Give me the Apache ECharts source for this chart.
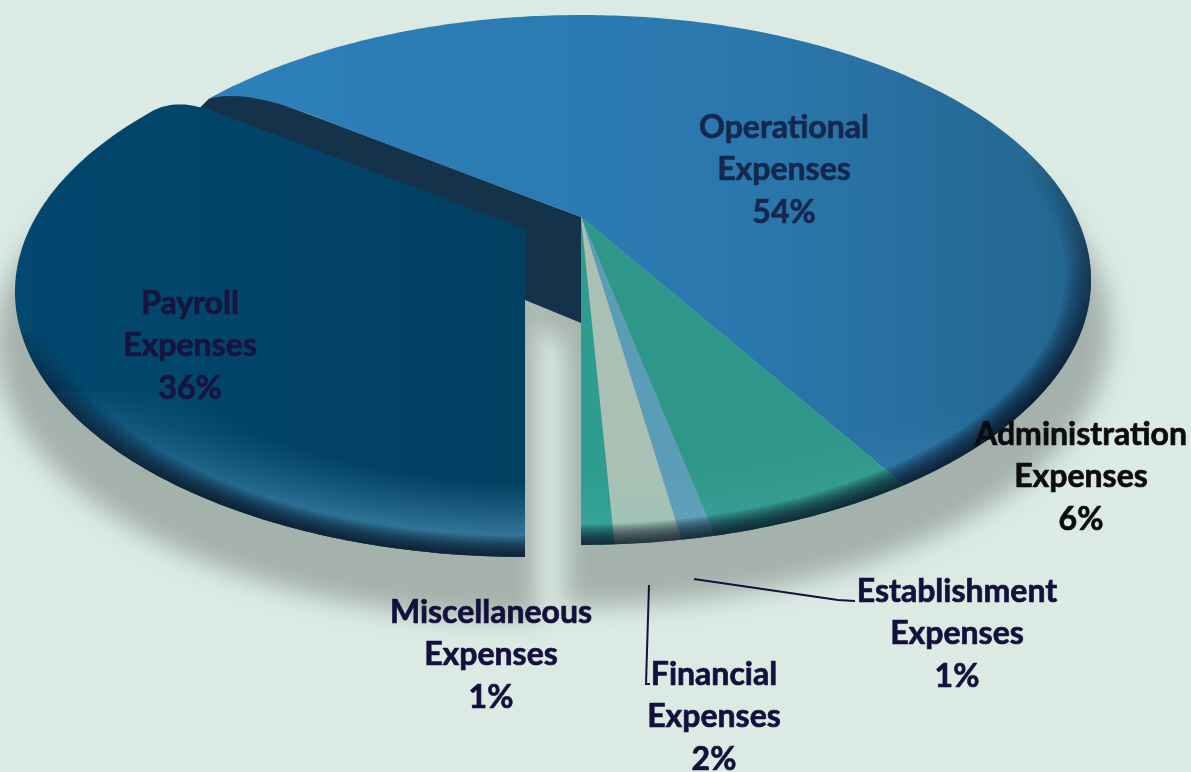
<!DOCTYPE html>
<html><head><meta charset="utf-8">
<style>html,body{margin:0;padding:0;background:#DBEAE3}#c{width:1191px;height:772px}</style>
<script src="https://cdn.jsdelivr.net/npm/echarts@6/dist/echarts.min.js"></script>
</head><body><div id="c"></div>
<script>
// Data
const categories = ['Operational Expenses','Administration Expenses','Establishment Expenses','Financial Expenses','Miscellaneous Expenses','Payroll Expenses'];
const values = [54, 6, 1, 2, 1, 36];
const sliceColors = ['#2c7db6','#2f978a','#5b9cb6','#abc0b4','#2f9c90','#03456b'];
const labelCentres = [[784,170],[1081,477],[957,634],[714,717],[491,655],[190,346]];
const labelColors = ['#14284f','#0b0b10','#14103c','#14103c','#14103c','#17143f'];

// Projection of the tilted disc
const CX=581, CY=217, A=495.4, B=250, K=0.2377;
const EXPLODE=[-56,12];
const total = values.reduce((a,b)=>a+b,0);
const START=-50.4;
const warp = d => { const r=d*Math.PI/180; return d+5.11*Math.sin(r)-1.36*Math.sin(2*r)-0.6*Math.sin(4*r); };
const bounds=[]; { let c=START; values.forEach(v=>{bounds.push([c,c+v/total*360]); c+=v/total*360;}); }
function pt(deg,r,off){
  const t=warp(deg)*Math.PI/180, x=r*Math.sin(t), y=-r*Math.cos(t), w=1-K*y;
  return [CX+(off?off[0]:0)+A*x/w, CY+(off?off[1]:0)+B*y/w];
}
function arc(a0,a1,r,off){ const p=[]; const n=Math.max(2,Math.ceil(Math.abs(a1-a0)/0.75));
  for(let i=0;i<=n;i++) p.push(pt(a0+(a1-a0)*i/n,r,off)); return p; }
const lerp=(a,b,t)=>[a[0]+(b[0]-a[0])*t,a[1]+(b[1]-a[1])*t];
function quad(a,c,b){ const p=[]; for(let i=0;i<=12;i++){const t=i/12; p.push(lerp(lerp(a,c,t),lerp(c,b,t),t));} return p; }
const mainRange=[bounds[0][0],bounds[4][1]], payRange=bounds[5];
// the two free corners on the rim are soft, as in a bevelled disc
function mainEdge(){ const o=pt(0,0), r=pt(START,1), tip=pt(START-4.2,1), c=lerp(o,r,.96); c[1]-=4;
  return {o,tip,pts:[o].concat(quad(lerp(o,r,.72),c,tip))}; }
function payEdge(){ const o=pt(0,0,EXPLODE), r=pt(START,1,EXPLODE);
  return quad(pt(START-4.1,1,EXPLODE),r,lerp(o,r,.9)).concat([o]); }
function sliceShape(i){
  const b=bounds[i];
  if(i===0) return mainEdge().pts.concat(arc(b[0]-4.2,b[1],1));
  if(i===5) return arc(b[0],b[1]-4.1,1,EXPLODE).concat(payEdge());
  return [pt(0,0)].concat(arc(b[0],b[1],1));
}
function ring(a0,a1,r,off){ return arc(a0,a1,1,off).concat(arc(a1,a0,r,off)); }
const vgrad=(stops,y0,y1)=>({type:'linear',global:true,x:0,y:y0,x2:0,y2:y1,colorStops:stops});
const hgrad=(stops,x0,x1)=>({type:'linear',global:true,x:x0,y:0,x2:x1,y2:0,colorStops:stops});
const FAR=3000;
function shadowPoly(k){
  if(k===0){ const a=arc(mainRange[0],mainRange[1],1.035,[0,46]); const e=a[a.length-1];
    return a.concat([[565,e[1]],[565,250],[CX,200]]); }
  if(k===1){ const a=arc(payRange[0],payRange[1],1.035,[EXPLODE[0],EXPLODE[1]+46]);
    return a.concat([[CX-44,250],[537,a[0][1]]]); }
  const o=pt(0,0); return [[o[0]-56,o[1]+70],[o[0],o[1]+90],[o[0],o[1]+128],[o[0]-56,o[1]+105]];
}
const rings=[];
for(let r=.82;r<.95;r+=.01){rings.push([0,r,0]);rings.push([1,r,0]);}
for(let r=.952;r<.998;r+=.004){rings.push([0,r,1]);rings.push([1,r,1]);}

const option={
  backgroundColor:'#DBEAE3',animation:false,
  series:[
   {type:'custom',coordinateSystem:'none',z:1,silent:true,data:[0,1,2],
    renderItem(params,api){ const pts=shadowPoly(api.value(0)).map(q=>[q[0]+FAR,q[1]]);
      return {type:'polygon',shape:{points:pts},style:{fill:'#a8b6af',shadowBlur:24,shadowColor:'#a4b2ab',shadowOffsetX:-FAR}}; }},
   {type:'custom',coordinateSystem:'none',z:2,silent:true,data:[0],
    renderItem(){ const m=mainEdge(), o=m.o, d=o[1]+106, t=m.tip;
      return {type:'polygon',shape:{points:[t,pt(START,1),o,[o[0],d],[o[0]-56,d-23],[t[0]+4,t[1]+20],[t[0]-9,t[1]+9]]},style:{fill:'#14324a'}}; }},
   {type:'custom',coordinateSystem:'none',z:3,silent:true,data:values.map((v,i)=>[i,v]),
    renderItem(params,api){ const i=api.value(0);
      let fill=sliceColors[i];
      if(i===0) fill=hgrad([{offset:0,color:'#2d80bb'},{offset:.6,color:'#2b78ae'},{offset:1,color:'#24668f'}],200,1090);
      if(i===5) fill=hgrad([{offset:0,color:'#03486f'},{offset:1,color:'#024062'}],14,525);
      return {type:'polygon',shape:{points:sliceShape(i)},style:{fill}}; }},
   {type:'custom',coordinateSystem:'none',z:4,silent:true,data:rings,
    renderItem(params,api){ const g=api.value(0), r=api.value(1), dark=api.value(2);
      const a=g?[payRange[0],payRange[1]-4.1]:[mainRange[0],mainRange[1]], off=g?EXPLODE:null;
      let fill;
      if(dark) fill=vgrad([{offset:0,color:'rgba(0,10,25,0)'},{offset:1,color:'rgba(0,10,25,0.11)'}],g?320:150,g?500:400);
      else { const al=g?0.04:0.012;
        fill=vgrad([{offset:0,color:'rgba(120,195,230,0)'},{offset:1,color:'rgba(120,195,230,'+al+')'}],380,540); }
      return {type:'polygon',shape:{points:ring(a[0],a[1],r,off)},style:{fill}}; }},
   {type:'custom',coordinateSystem:'none',z:5,silent:true,
    data:[[694,579,838,600,855,601],[649,585,646,684,650,684]],
    renderItem(params,api){ return {type:'polyline',shape:{points:[[api.value(0),api.value(1)],[api.value(2),api.value(3)],[api.value(4),api.value(5)]]},style:{stroke:'#14103c',lineWidth:2,fill:null}}; }},
   {type:'custom',coordinateSystem:'none',z:6,silent:true,data:values.map((v,i)=>[i,v]),
    renderItem(params,api){ const i=api.value(0), p=labelCentres[i];
      return {type:'text',x:p[0],y:p[1],style:{text:categories[i].replace(' ','\n')+'\n'+api.value(1)+'%',
        align:'center',verticalAlign:'middle',font:'bold 32px Lato',lineHeight:42.5,fill:labelColors[i],
        stroke:labelColors[i],lineWidth:0.7}}; }}
  ]
};
echarts.init(document.getElementById('c')).setOption(option);
</script></body></html>
